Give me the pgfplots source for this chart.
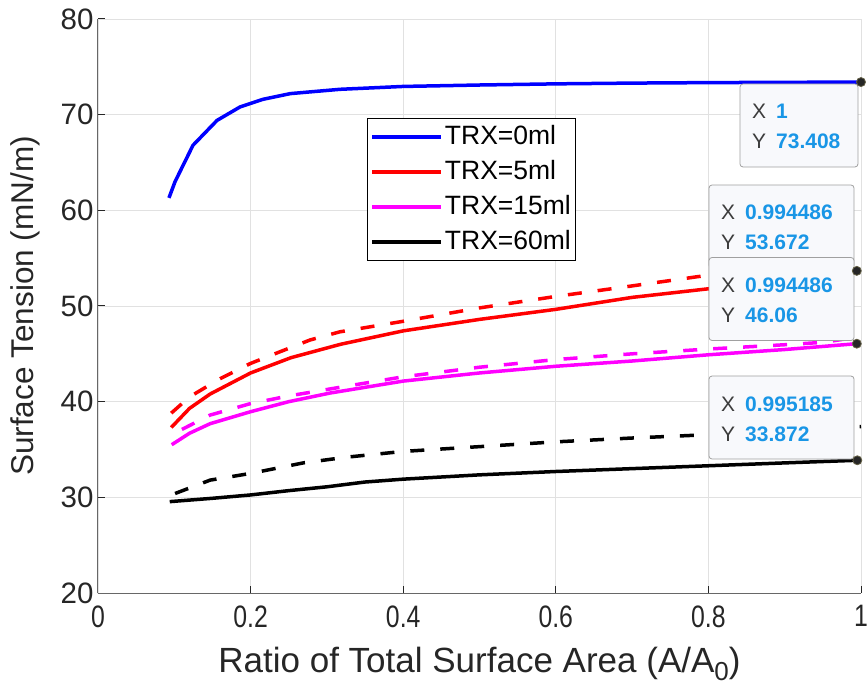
\documentclass[border=0pt]{standalone}
\usepackage{fontspec}
\setmainfont{Liberation Sans}
\usepackage{graphicx}
\usepackage{pgfplots}
\pgfplotsset{compat=1.18}
\definecolor{tipblue}{RGB}{25,150,230}
\definecolor{tipgray}{RGB}{60,60,60}
\definecolor{tipfill}{RGB}{248,249,252}
\definecolor{tipborder}{RGB}{160,160,160}
\definecolor{axgray}{RGB}{38,38,38}
\definecolor{gridgray}{RGB}{225,225,225}
\definecolor{mag}{RGB}{255,0,255}
\definecolor{pblue}{RGB}{0,0,255}
\definecolor{pred}{RGB}{255,0,0}
\newcommand{\tipfont}{\fontsize{21bp}{25bp}\selectfont}
\newcommand{\xt}[1]{\scalebox{0.8}[1]{#1}}
\newcommand{\tip}[4]{% x y width value
  \draw[tipborder, fill=tipfill, rounded corners=3bp, line width=0.8bp]
    (axis description cs:#1,#2) rectangle ([shift={(#3bp,-83bp)}]axis description cs:#1,#2);
  \node[anchor=base west, inner sep=0pt] at ([shift={(12bp,-35bp)}]axis description cs:#1,#2) {\tipfont\color{tipgray}X};
  \node[anchor=base west, inner sep=0pt] at ([shift={(36bp,-35bp)}]axis description cs:#1,#2) {\tipfont\bfseries\color{tipblue}#4};
  \node[anchor=base west, inner sep=0pt] at ([shift={(12bp,-65bp)}]axis description cs:#1,#2) {\tipfont\color{tipgray}Y};
}
\newcommand{\tipy}[3]{%
  \node[anchor=base west, inner sep=0pt] at ([shift={(36bp,-65bp)}]axis description cs:#1,#2) {\tipfont\bfseries\color{tipblue}#3};
}
\begin{document}
\begin{tikzpicture}
\begin{axis}[
  name=ax,
  scale only axis,
  width=763bp, height=574bp,
  xmin=0, xmax=1, ymin=20, ymax=80,
  xtick={0,0.2,0.4,0.6,0.8,1},
  ytick={20,30,40,50,60,70,80},
  xticklabels={\xt{0},\xt{0.2},\xt{0.4},\xt{0.6},\xt{0.8},\xt{1}},
  axis lines*=left,
  axis line style={draw=axgray!70, line width=1bp},
  tick align=inside,
  major tick length=7bp,
  tick style={axgray, line width=1bp},
  grid=major,
  major grid style={gridgray, line width=0.9bp},
  /pgf/number format/assume math mode=true,
  xticklabel style={font=\fontsize{31bp}{34bp}\selectfont, text=axgray, yshift=-9bp},
  yticklabel style={font=\fontsize{29.5bp}{34bp}\selectfont, text=axgray, xshift=-1bp},
  label style={text=axgray},
  xlabel={Ratio of Total Surface Area (A/A\raisebox{-8bp}{\fontsize{26bp}{26bp}\selectfont 0})},
  ylabel={Surface Tension (mN/m)},
  xlabel style={font=\fontsize{35bp}{38bp}\selectfont, at={(axis description cs:0.5,0)}, anchor=base, yshift=-79bp},
  ylabel style={font=\fontsize{31.5bp}{36bp}\selectfont, at={(axis description cs:0,0.5)}, anchor=base, yshift=64bp},
  legend style={
    at={(axis description cs:0.3526,0.8275)}, anchor=north west,
    draw=black, line width=0.8bp, fill=white,
    font=\fontsize{26.5bp}{30bp}\selectfont,
    inner xsep=3bp, inner ysep=1bp,
    nodes={text height=19bp, text depth=4bp, inner ysep=6bp},
  },
  legend cell align=left,
  legend image code/.code={\draw[#1] (0bp,0bp) -- (69bp,0bp);},
  every axis plot/.append style={line width=3.5bp},
]
\addplot[pblue] coordinates {
(0.093,61.3) (0.101,63.0) (0.1245,66.8) (0.156,69.4) (0.186,70.8) (0.216,71.6)
(0.252,72.2) (0.317,72.65) (0.4,72.95) (0.5,73.1) (0.6,73.22) (0.7,73.3)
(0.8,73.35) (0.9,73.38) (1,73.408)};
\addlegendentry{TRX=0ml}
\addplot[pred] coordinates {
(0.096,37.3) (0.12,39.3) (0.147,40.8) (0.2,43.0) (0.253,44.6) (0.318,46.0)
(0.4,47.4) (0.5,48.6) (0.6,49.65) (0.7,50.9) (0.8,51.8) (0.9,52.7) (0.994486,53.672)};
\addlegendentry{TRX=5ml}
\addplot[mag] coordinates {
(0.0966,35.5) (0.12,36.7) (0.147,37.7) (0.2,38.95) (0.25,40.0) (0.304,40.9)
(0.4,42.15) (0.5,43.0) (0.6,43.7) (0.7,44.25) (0.8,44.9) (0.9,45.45) (0.994486,46.06)};
\addlegendentry{TRX=15ml}
\addplot[black] coordinates {
(0.094,29.55) (0.15,29.9) (0.2,30.25) (0.25,30.7) (0.3,31.1) (0.35,31.6)
(0.4,31.9) (0.5,32.35) (0.6,32.7) (0.7,33.0) (0.8,33.3) (0.9,33.6) (0.995185,33.872)};
\addlegendentry{TRX=60ml}
\addplot[pred, dash pattern=on 14bp off 16bp, forget plot] coordinates {
(0.096,38.8) (0.12,40.5) (0.16,42.4) (0.2,44.0) (0.238,45.2) (0.278,46.45)
(0.317,47.3) (0.4,48.4) (0.5,49.8) (0.6,51.0) (0.7,52.1) (0.789,53.1) (0.9,54.3) (1.0,55.3)};
\addplot[mag, dash pattern=on 14bp off 16bp, forget plot] coordinates {
(0.11,37.1) (0.147,38.6) (0.2,39.8) (0.25,40.6) (0.317,41.5) (0.4,42.6)
(0.5,43.6) (0.6,44.4) (0.7,45.0) (0.8,45.5) (0.9,45.95) (0.95,46.2) (1.0,46.8)};
\addplot[black, dash pattern=on 14bp off 16bp, forget plot] coordinates {
(0.101,30.4) (0.147,31.8) (0.2,32.5) (0.269,33.6) (0.326,34.2) (0.4,34.8)
(0.5,35.3) (0.6,35.8) (0.7,36.2) (0.8,36.55) (0.9,36.95) (1.0,37.4)};
% data tips
\tip{0.8414}{0.8868}{118}{1}
\tipy{0.8414}{0.8868}{73.408}
\tip{0.8008}{0.7108}{145}{0.994486}
\tipy{0.8008}{0.7108}{53.672}
\tip{0.8008}{0.5845}{145}{0.994486}
\tipy{0.8008}{0.5845}{46.06}
\tip{0.8008}{0.3780}{145}{0.995185}
\tipy{0.8008}{0.3780}{33.872}
\addplot[only marks, mark=*, mark size=4.5bp, line width=0.8bp, draw=black!70!yellow, fill=black!85, forget plot] coordinates {
(1,73.408) (0.994486,53.672) (0.994486,46.06) (0.995185,33.872)};
\end{axis}
\pgfresetboundingbox
\path ([shift={(-98bp,-103bp)}]ax.south west) rectangle ([shift={(6bp,19bp)}]ax.north east);
\end{tikzpicture}
\end{document}
